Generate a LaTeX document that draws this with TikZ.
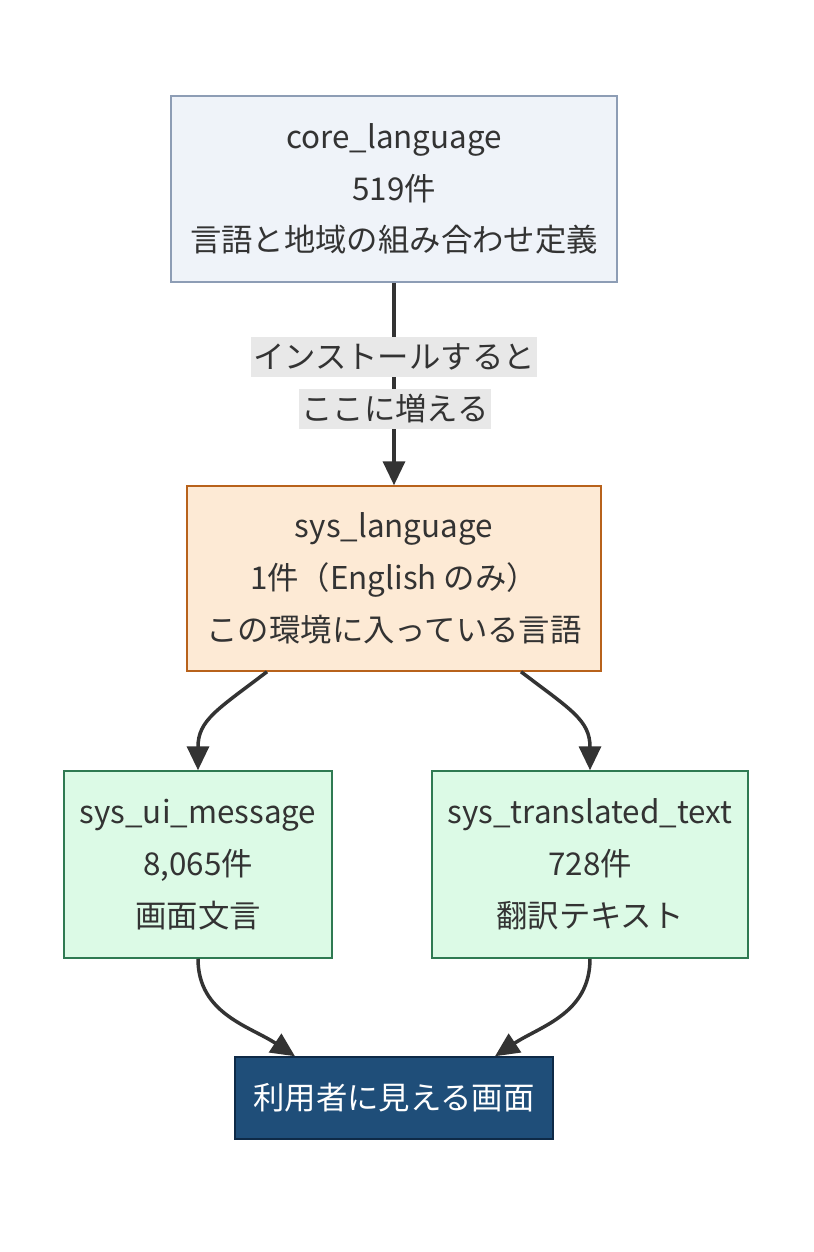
\documentclass[tikz,border=0pt]{standalone}
\usepackage{fontspec}
\setmainfont{Noto Sans CJK JP}
\usetikzlibrary{arrows.meta,calc}
\definecolor{ink}{HTML}{333333}
\definecolor{corefill}{HTML}{EFF3F9}
\definecolor{coredraw}{HTML}{8D9DB5}
\definecolor{langfill}{HTML}{FDEAD5}
\definecolor{langdraw}{HTML}{B8621B}
\definecolor{greenfill}{HTML}{DCFAE6}
\definecolor{greendraw}{HTML}{2F7A52}
\definecolor{darkfill}{HTML}{1F4E79}
\definecolor{darkdraw}{HTML}{0E2A47}
\definecolor{labfill}{HTML}{E8E8E8}
\begin{document}
\begin{tikzpicture}[x=1bp,y=-1bp,
  box/.style={rectangle, line width=1.5bp, align=center, text=ink, inner sep=0pt,
    font=\fontsize{31.5}{52}\selectfont},
  edgelab/.style={fill=labfill, text=ink, inner sep=0pt, font=\fontsize{31.5}{36}\selectfont},
  conn/.style={draw=ink, line width=3.5bp, -{Triangle[length=24bp,width=22bp]}}]
\useasboundingbox[fill=white] (0,0) rectangle (814,1252);

\node[box, fill=corefill, draw=coredraw, minimum width=446bp, minimum height=186bp] (core) at (394,189)
  {core\_language\\519件\\言語と地域の組み合わせ定義};
\node[box, fill=langfill, draw=langdraw, minimum width=414bp, minimum height=185bp] (lang) at (394,578.5)
  {sys\_language\\1件（English のみ）\\この環境に入っている言語};
\node[box, fill=greenfill, draw=greendraw, minimum width=268bp, minimum height=187bp] (ui) at (198,864.5)
  {sys\_ui\_message\\8,065件\\画面文言};
\node[box, fill=greenfill, draw=greendraw, minimum width=316bp, minimum height=187bp] (tr) at (590,864.5)
  {sys\_translated\_text\\728件\\翻訳テキスト};
\node[box, fill=darkfill, draw=darkdraw, text=white, minimum width=318bp, minimum height=82bp] (screen) at (394,1098)
  {利用者に見える画面};

\draw[conn] (core.south) -- (lang.north);
\node[edgelab, minimum width=286bp, minimum height=40bp] (lab1) at (394,357) {インストールすると};
\node[edgelab, minimum width=192bp, minimum height=40bp] (lab2) at (395,409) {ここに増える};

\coordinate (lo) at ($(lang.south)+(-127,0)$);
\coordinate (ro) at ($(lang.south)+(127,0)$);
\draw[conn] (lo) .. controls +(-50,38) and +(0,-50) .. (ui.north);
\draw[conn] (ro) .. controls +(50,38) and +(0,-50) .. (tr.north);
\coordinate (sl) at ($(screen.north)+(-99,0)$);
\coordinate (sr) at ($(screen.north)+(101,0)$);
\draw[conn] (ui.south) .. controls +(0,55) and +(-45,-30) .. (sl);
\draw[conn] (tr.south) .. controls +(0,55) and +(45,-30) .. (sr);
\end{tikzpicture}
\end{document}
